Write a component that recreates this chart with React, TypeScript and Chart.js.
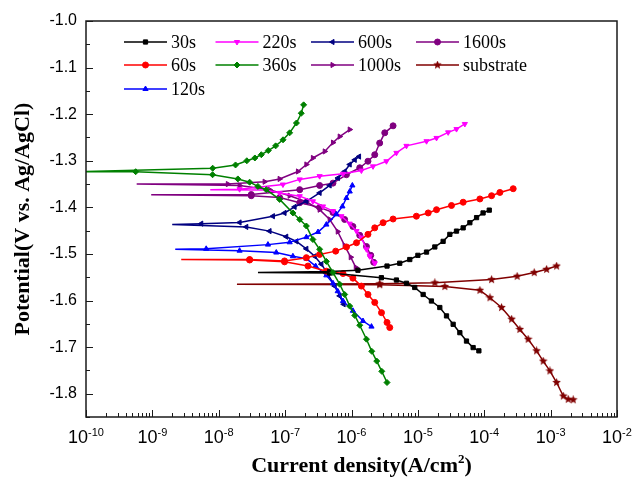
import React, { useEffect, useRef } from 'react';
import { Chart, registerables } from 'chart.js';
import { drawPoint } from 'chart.js/helpers';

Chart.register(...registerables);

// Current density (A/cm2) and potential (V vs. Ag/AgCl), in scan order:
// cathodic end -> corrosion potential spike -> anodic end
const i30 = [8.3e-5, 6.8e-5, 5.4e-5, 4.29e-5, 3.4e-5, 2.7e-5, 2.14e-5, 1.6e-5, 1.2e-5, 8.97e-6, 6.73e-6, 4.75e-6, 2.82e-6, 4.7e-7,
  3.9e-8,
  4.7e-7, 1.25e-6, 3.43e-6, 5.33e-6, 7.55e-6, 1.0e-5, 1.35e-5, 1.8e-5, 2.4e-5, 3.03e-5, 3.82e-5, 4.81e-5, 6.07e-5, 7.66e-5, 9.6e-5, 1.19e-4];
const e30 = [-1.708, -1.701, -1.687, -1.669, -1.651, -1.633, -1.615, -1.601, -1.587, -1.572, -1.563, -1.556, -1.551, -1.541,
  -1.540,
  -1.5375, -1.535, -1.526, -1.520, -1.512, -1.503, -1.496, -1.485, -1.473, -1.458, -1.451, -1.444, -1.433, -1.422, -1.412, -1.406];

const i60 = [3.77e-6, 3.43e-6, 2.83e-6, 2.24e-6, 1.77e-6, 1.41e-6, 1.05e-6, 7.45e-7, 4.18e-7, 2.21e-7, 9.8e-8, 2.92e-8,
  2.72e-9,
  2.92e-8, 9.8e-8, 2.09e-7, 3.31e-7, 5.78e-7, 8.4e-7, 1.19e-6, 1.77e-6, 2.24e-6, 2.99e-6, 4.23e-6, 9.5e-6, 1.43e-5, 1.91e-5, 3.21e-5, 4.81e-5, 8.6e-5, 1.29e-4, 1.72e-4, 2.73e-4];
const e60 = [-1.658, -1.647, -1.626, -1.604, -1.587, -1.569, -1.552, -1.542, -1.537, -1.526, -1.517, -1.513,
  -1.512,
  -1.512, -1.515, -1.508, -1.501, -1.494, -1.485, -1.476, -1.458, -1.444, -1.433, -1.425, -1.419, -1.412, -1.405, -1.396, -1.389, -1.382, -1.375, -1.368, -1.360];

const i120 = [2.0e-6, 1.49e-6, 1.05e-6, 7.45e-7, 6.2e-7, 5.26e-7, 4.18e-7, 2.88e-7, 2.09e-7, 1.31e-7, 7.36e-8, 2.06e-8,
  2.21e-9,
  6.47e-9, 5.51e-8, 1.17e-7, 2.09e-7, 3.13e-7, 4.18e-7, 5.91e-7, 7.3e-7, 8.38e-7, 9.4e-7, 1.03e-6];
const e120 = [-1.656, -1.644, -1.622, -1.601, -1.580, -1.563, -1.546, -1.526, -1.510, -1.505, -1.497, -1.493,
  -1.490,
  -1.489, -1.480, -1.475, -1.464, -1.453, -1.437, -1.415, -1.398, -1.380, -1.366, -1.353];

const i220 = [2.24e-6, 1.88e-6, 1.68e-6, 1.41e-6, 1.19e-6, 9.4e-7, 7.05e-7, 5.26e-7, 3.72e-7, 2.62e-7, 1.66e-7, 8.26e-8, 5.2e-8,
  7.45e-9,
  2.06e-8, 9.27e-8, 1.66e-7, 3.31e-7, 7.45e-7, 1.41e-6, 2.11e-6, 3.36e-6, 4.75e-6, 6.73e-6, 1.35e-5, 1.91e-5, 2.86e-5, 3.82e-5, 5.1e-5];
const e220 = [-1.520, -1.505, -1.490, -1.465, -1.451, -1.435, -1.419, -1.408, -1.398, -1.387, -1.376, -1.369, -1.363,
  -1.362,
  -1.361, -1.351, -1.340, -1.333, -1.328, -1.321, -1.312, -1.301, -1.283, -1.268, -1.258, -1.251, -1.239, -1.232, -1.221];

const i360 = [3.43e-6, 2.86e-6, 2.4e-6, 2.02e-6, 1.68e-6, 1.33e-6, 1.12e-6, 9.4e-7, 7.89e-7, 6.64e-7, 5.26e-7, 4.18e-7, 3.31e-7, 2.62e-7, 2.09e-7, 1.66e-7, 1.31e-7, 8.26e-8, 5.2e-8, 3.89e-8, 2.92e-8, 1.94e-8, 8.07e-9, 5.6e-10,
  8e-11,
  8.1e-9, 1.79e-8, 2.65e-8, 3.5e-8, 4.38e-8, 5.58e-8, 7.2e-8, 9.3e-8, 1.17e-7, 1.48e-7, 1.75e-7, 1.9e-7];
const e360 = [-1.776, -1.752, -1.730, -1.709, -1.683, -1.653, -1.632, -1.612, -1.587, -1.565, -1.540, -1.516, -1.490, -1.469, -1.440, -1.426, -1.412, -1.383, -1.362, -1.355, -1.346, -1.339, -1.330, -1.3235,
  -1.3233,
  -1.316, -1.309, -1.300, -1.294, -1.287, -1.278, -1.268, -1.255, -1.240, -1.219, -1.198, -1.180];

const i600 = [7.62e-7, 6.64e-7, 5.59e-7, 4.43e-7, 3.52e-7, 2.79e-7, 2.09e-7, 1.48e-7, 1.04e-7, 5.83e-8, 2.6e-8,
  1.99e-9,
  5.45e-9, 2.06e-8, 6.55e-8, 9.8e-8, 1.39e-7, 2.09e-7, 3.31e-7, 4.69e-7, 6.25e-7, 7.88e-7, 9.4e-7, 1.12e-6, 1.3e-6];
const e600 = [-1.608, -1.590, -1.569, -1.544, -1.522, -1.505, -1.489, -1.473, -1.463, -1.451, -1.442,
  -1.437,
  -1.435, -1.4325, -1.419, -1.412, -1.399, -1.387, -1.369, -1.353, -1.337, -1.323, -1.308, -1.298, -1.291];

const i1000 = [1.16e-6, 9.73e-7, 7.88e-7, 6.2e-7, 4.69e-7, 3.31e-7, 2.09e-7, 1.17e-7, 5.83e-8, 2.06e-8,
  5.8e-10,
  1.37e-8, 4.91e-8, 8.26e-8, 1.56e-7, 2.09e-7, 2.62e-7, 3.95e-7, 5.26e-7, 6.64e-7, 9.4e-7];
const e1000 = [-1.529, -1.507, -1.482, -1.452, -1.426, -1.405, -1.388, -1.375, -1.362, -1.353,
  -1.350,
  -1.350, -1.345, -1.339, -1.323, -1.308, -1.294, -1.280, -1.261, -1.248, -1.233];

const i1600 = [2.16e-6, 1.95e-6, 1.68e-6, 1.33e-6, 1.05e-6, 7.88e-7, 5.26e-7, 3.31e-7, 1.66e-7, 8.26e-8, 3.09e-8,
  9.6e-10,
  3.09e-8, 1.66e-7, 3.31e-7, 5.26e-7, 8.38e-7, 1.33e-6, 1.77e-6, 2.24e-6, 2.66e-6, 3.17e-6, 4.23e-6];
const e1600 = [-1.518, -1.503, -1.484, -1.460, -1.441, -1.426, -1.411, -1.400, -1.390, -1.379, -1.375,
  -1.373,
  -1.3725, -1.362, -1.353, -1.348, -1.330, -1.315, -1.301, -1.287, -1.262, -1.240, -1.225];

const iSub = [2.19e-3, 1.84e-3, 1.55e-3, 1.23e-3, 9.75e-4, 7.73e-4, 6.15e-4, 4.59e-4, 3.44e-4, 2.58e-4, 1.82e-4, 1.22e-4, 8.6e-5, 2.55e-5, 2.66e-6,
  1.88e-8,
  2.66e-6, 1.8e-5, 1.29e-4, 3.13e-4, 5.66e-4, 8.7e-4, 1.23e-3];
const eSub = [-1.813, -1.812, -1.805, -1.776, -1.751, -1.730, -1.708, -1.683, -1.662, -1.640, -1.615, -1.594, -1.578, -1.570, -1.566,
  -1.565,
  -1.564, -1.562, -1.555, -1.548, -1.540, -1.533, -1.526];

const seriesLabels = ['30s', '60s', '120s', '220s', '360s', '600s', '1000s', '1600s', 'substrate'];
const seriesCurrents = [i30, i60, i120, i220, i360, i600, i1000, i1600, iSub];
const seriesPotentials = [e30, e60, e120, e220, e360, e600, e1000, e1600, eSub];

const yTickValues = [-1.8, -1.7, -1.6, -1.5, -1.4, -1.3, -1.2, -1.1, -1.0];
const xTickExponents = [-10, -9, -8, -7, -6, -5, -4, -3, -2];
const xTitle = 'Current density(A/cm';
const xTitleSup = '2';
const yTitle = 'Potential(V vs. Ag/AgCl)';

// styles
const colors = ['#000000', '#ff0000', '#0000ff', '#ff00ff', '#008000', '#000080', '#800080', '#800080', '#800000'];
const markers: any[] = ['rect', 'circle', 'triangle', 'triangle', 'rectRot', 'triangle', 'triangle', 'circle', 'STAR'];
const rotations = [0, 0, 0, 180, 0, -90, 90, 0, 0];
const legendCells = [[0, 0], [0, 1], [0, 2], [1, 0], [1, 1], [2, 0], [2, 1], [3, 0], [3, 1]];

function makeStar(color: string, size: number) {
  const c = document.createElement('canvas');
  c.width = size;
  c.height = size;
  const g = c.getContext('2d')!;
  const cx = size / 2, cy = size / 2, R = size / 2, r = R * 0.45;
  g.beginPath();
  for (let k = 0; k < 10; k++) {
    const rad = k % 2 === 0 ? R : r;
    const a = -Math.PI / 2 + (k * Math.PI) / 5;
    const px = cx + rad * Math.cos(a), py = cy + rad * Math.sin(a);
    if (k === 0) g.moveTo(px, py); else g.lineTo(px, py);
  }
  g.closePath();
  g.fillStyle = color;
  g.fill();
  return c;
}

export default function App() {
  const ref = useRef<HTMLCanvasElement>(null);
  useEffect(() => {
    const star = makeStar('#800000', 9);
    const styles = markers.map((m) => (m === 'STAR' ? star : m));

    const datasets = seriesLabels.map((label, s) => {
      const xs = seriesCurrents[s];
      const ys = seriesPotentials[s];
      const spike = xs.indexOf(Math.min(...xs));
      return {
        label,
        data: xs.map((x, k) => ({ x, y: ys[k] })),
        showLine: true,
        borderColor: colors[s],
        backgroundColor: colors[s],
        pointBackgroundColor: colors[s],
        pointBorderColor: colors[s],
        borderWidth: 1.5,
        pointStyle: styles[s],
        pointRotation: rotations[s],
        pointBorderWidth: 1,
        pointRadius: (ctx: any) => (ctx.dataIndex === spike ? 0 : 3),
        tension: 0,
        order: label === '360s' ? -1 : s,
      };
    });

    const decor = {
      id: 'decor',
      afterDraw(chart: any) {
        const { ctx, chartArea: a, scales } = chart;
        const xs = scales.x, ys = scales.y;
        ctx.save();
        // frame
        ctx.strokeStyle = '#1a1a1a';
        ctx.lineWidth = 1.5;
        ctx.strokeRect(a.left, a.top, a.right - a.left, a.bottom - a.top);
        ctx.lineWidth = 1;
        ctx.strokeStyle = '#1a1a1a';
        // y ticks
        ctx.beginPath();
        yTickValues.forEach((v) => {
          const py = Math.round(ys.getPixelForValue(v)) + 0.5;
          ctx.moveTo(a.left, py); ctx.lineTo(a.left + 7, py);
          const pm = Math.round(ys.getPixelForValue(v - 0.05)) + 0.5;
          ctx.moveTo(a.left, pm); ctx.lineTo(a.left + 4, pm);
        });
        // x ticks
        xTickExponents.forEach((ex, k) => {
          const px = Math.round(xs.getPixelForValue(Math.pow(10, ex))) + 0.5;
          ctx.moveTo(px, a.bottom); ctx.lineTo(px, a.bottom - 7);
          if (k < xTickExponents.length - 1) {
            for (let m = 2; m <= 9; m++) {
              const pm = Math.round(xs.getPixelForValue(m * Math.pow(10, ex))) + 0.5;
              ctx.moveTo(pm, a.bottom); ctx.lineTo(pm, a.bottom - 4);
            }
          }
        });
        ctx.stroke();

        // y tick labels
        ctx.fillStyle = '#000';
        ctx.font = '16px "Liberation Sans", Arial, sans-serif';
        ctx.textAlign = 'right';
        ctx.textBaseline = 'middle';
        yTickValues.forEach((v) => {
          ctx.fillText(v.toFixed(1), a.left - 9, ys.getPixelForValue(v));
        });
        // x tick labels with superscripts
        ctx.textBaseline = 'alphabetic';
        ctx.textAlign = 'left';
        xTickExponents.forEach((ex) => {
          const px = xs.getPixelForValue(Math.pow(10, ex));
          ctx.font = '18px "Liberation Sans", Arial, sans-serif';
          const wBase = ctx.measureText('10').width;
          ctx.font = '11px "Liberation Sans", Arial, sans-serif';
          const sup = String(ex);
          const wSup = ctx.measureText(sup).width;
          const x0 = px - (wBase + wSup) / 2;
          ctx.font = '18px "Liberation Sans", Arial, sans-serif';
          ctx.fillText('10', x0, a.bottom + 26);
          ctx.font = '11px "Liberation Sans", Arial, sans-serif';
          ctx.fillText(sup, x0 + wBase, a.bottom + 19);
        });

        // axis titles
        ctx.font = 'bold 22px "Liberation Serif", "Times New Roman", serif';
        const wT = ctx.measureText(xTitle).width;
        ctx.font = 'bold 13px "Liberation Serif", "Times New Roman", serif';
        const wS = ctx.measureText(xTitleSup).width;
        ctx.font = 'bold 22px "Liberation Serif", "Times New Roman", serif';
        const wP = ctx.measureText(')').width;
        const cx = (a.left + a.right) / 2 + 10;
        let tx = cx - (wT + wS + wP) / 2;
        const ty = a.bottom + 55;
        ctx.fillText(xTitle, tx, ty);
        ctx.font = 'bold 13px "Liberation Serif", "Times New Roman", serif';
        ctx.fillText(xTitleSup, tx + wT, ty - 9);
        ctx.font = 'bold 22px "Liberation Serif", "Times New Roman", serif';
        ctx.fillText(')', tx + wT + wS, ty);

        ctx.save();
        ctx.translate(29, (a.top + a.bottom) / 2);
        ctx.rotate(-Math.PI / 2);
        ctx.textAlign = 'center';
        ctx.textBaseline = 'alphabetic';
        ctx.fillText(yTitle, 0, 0);
        ctx.restore();

        // legend
        const colX = [38, 129.5, 225, 330];
        const rowY = [21, 44, 68];
        ctx.font = '18px "Liberation Serif", "Times New Roman", serif';
        ctx.textAlign = 'left';
        ctx.textBaseline = 'middle';
        seriesLabels.forEach((label, s) => {
          const [c, r] = legendCells[s];
          const lx = a.left + colX[c];
          const ly = a.top + rowY[r];
          ctx.strokeStyle = colors[s];
          ctx.fillStyle = colors[s];
          ctx.lineWidth = 1.5;
          ctx.beginPath();
          ctx.moveTo(lx, ly); ctx.lineTo(lx + 43, ly);
          ctx.stroke();
          ctx.lineWidth = 1;
          drawPoint(ctx, { pointStyle: styles[s], rotation: rotations[s], radius: 3, borderWidth: 1 } as any, lx + 21.5, ly);
          ctx.fillStyle = '#000';
          ctx.fillText(label, lx + 47, ly + 1);
        });
        ctx.restore();
      },
    };

    const chart = new Chart(ref.current!, {
      type: 'scatter',
      data: { datasets: datasets as any },
      options: {
        animation: false,
        responsive: false,
        devicePixelRatio: 1,
        layout: { padding: { left: 86, top: 21, right: 16, bottom: 66 } },
        plugins: { legend: { display: false }, tooltip: { enabled: false } },
        scales: {
          x: {
            type: 'logarithmic', min: 1e-10, max: 1e-2,
            ticks: { display: false }, grid: { display: false }, border: { display: false },
            afterFit: (sc: any) => { sc.height = 0; },
          },
          y: {
            type: 'linear', min: -1.85, max: -1.0,
            ticks: { display: false }, grid: { display: false }, border: { display: false },
            afterFit: (sc: any) => { sc.width = 0; },
          },
        },
      },
      plugins: [decor],
    } as any);
    return () => chart.destroy();
  }, []);

  return (
    <div style={{ position: 'absolute', left: 0, top: 0, width: 633, height: 483, background: '#fff' }}>
      <canvas ref={ref} width={633} height={483} style={{ display: 'block' }} />
    </div>
  );
}
